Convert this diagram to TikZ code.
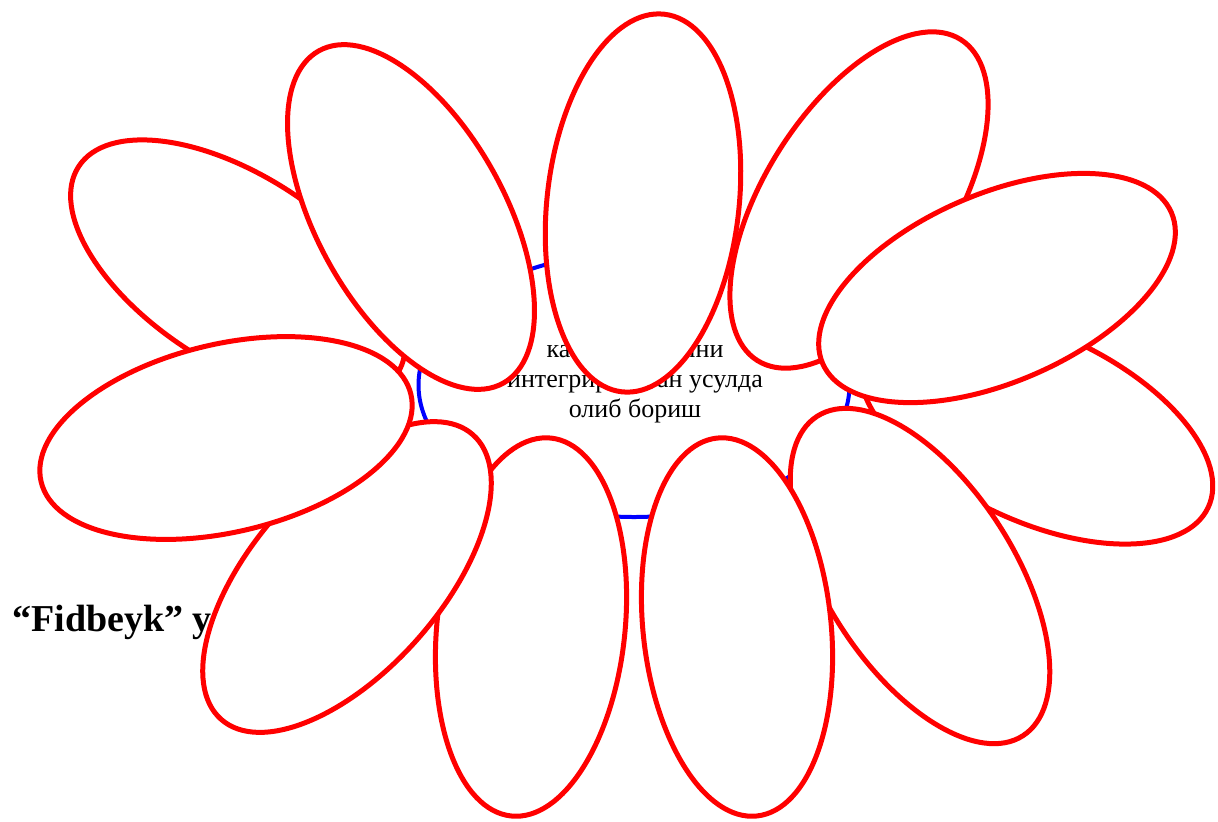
\documentclass[tikz,border=0pt]{standalone}
\usepackage{fontspec}
\setmainfont{Liberation Serif}
\usepackage{tikz}
\usetikzlibrary{shapes.geometric}
\definecolor{petalred}{RGB}{255,0,0}
\definecolor{hubblue}{RGB}{0,0,255}

\begin{document}
\begin{tikzpicture}[x=0.5pt, y=-0.5pt,
  petal/.style={ellipse, draw=petalred, fill=white, line width=2.5pt, inner sep=0pt, minimum width=190pt, minimum height=94pt},
  hub/.style={ellipse, draw=hubblue, fill=white, line width=2pt, inner sep=0pt, minimum width=215.5pt, minimum height=132pt}]
  \useasboundingbox (0,0) rectangle (1218,821);

  % centre
  \node[hub] (hub) at (634,385) {};
  \node[align=center, inner sep=0pt, font=\fontsize{13}{15}\selectfont] (label) at (635,381) {касб фанларини\\интегрирланган усулда\\олиб бориш};
  \node[anchor=base west, inner sep=0pt, font=\fontsize{19}{22}\selectfont\bfseries] (title) at (12,631) {“Fidbeyk” усули};

  % petals, lowest first
  \node[petal, rotate=-33] (p3) at (238,270) {};
  \node[petal, rotate=-61] (p2) at (411,217) {};
  \node[petal, rotate=83.6, minimum height=96pt] (p1) at (643,203) {};
  \node[petal, rotate=57.6] (p11) at (859,200) {};
  \node[petal, rotate=-25] (p9) at (1036,427) {};
  \node[petal, rotate=23.4] (p10) at (997,288) {};
  \node[petal, rotate=-57.2] (p8) at (920,576) {};
  \node[petal, rotate=96] (p7) at (737,627) {};
  \node[petal, rotate=84] (p6) at (531,627) {};
  \node[petal, rotate=48.5] (p5) at (347,577) {};
  \node[petal, rotate=13.3] (p4) at (226,438) {};
\end{tikzpicture}
\end{document}
